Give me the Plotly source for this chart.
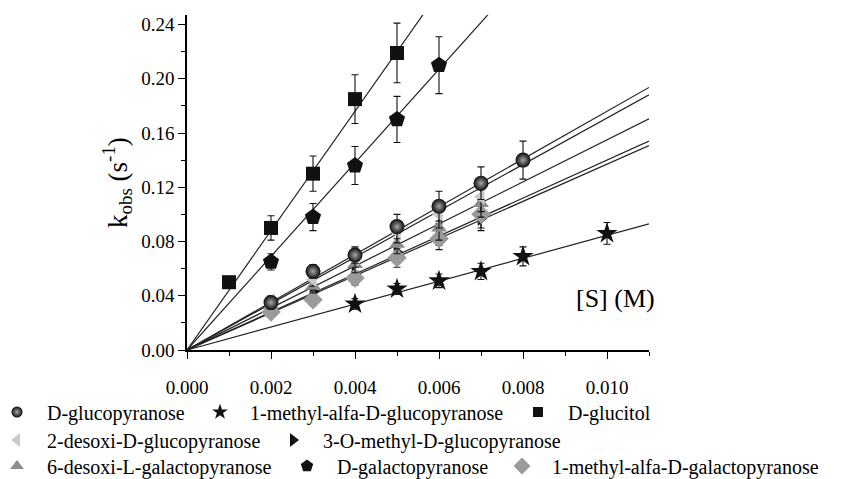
import plotly.graph_objects as go

# ---------------- data ----------------
names = ["D-glucopyranose", "1-methyl-alfa-D-glucopyranose", "D-glucitol",
         "2-desoxi-D-glucopyranose", "3-O-methyl-D-glucopyranose",
         "6-desoxi-L-galactopyranose", "D-galactopyranose",
         "1-methyl-alfa-D-galactopyranose"]

glc_x = [0.002, 0.003, 0.004, 0.005, 0.006, 0.007, 0.008]
glc_y = [0.035, 0.058, 0.070, 0.091, 0.106, 0.123, 0.140]
glc_e = [0.004, 0.005, 0.006, 0.009, 0.011, 0.012, 0.014]

mglc_x = [0.004, 0.005, 0.006, 0.007, 0.008, 0.010]
mglc_y = [0.034, 0.045, 0.051, 0.058, 0.069, 0.086]
mglc_e = [0.004, 0.004, 0.005, 0.006, 0.007, 0.008]

gol_x = [0.001, 0.002, 0.003, 0.004, 0.005]
gol_y = [0.050, 0.090, 0.130, 0.185, 0.219]
gol_e = [0.003, 0.009, 0.013, 0.018, 0.022]

dglc_x = [0.002, 0.003, 0.004, 0.005, 0.006, 0.007]
dglc_y = [0.036, 0.052, 0.068, 0.087, 0.100, 0.113]
dglc_e = [0.004, 0.005, 0.007, 0.008, 0.010, 0.011]

omglc_x = [0.002, 0.003, 0.004, 0.005, 0.006, 0.007]
omglc_y = [0.030, 0.043, 0.056, 0.072, 0.085, 0.097]
omglc_e = [0.003, 0.004, 0.005, 0.007, 0.008, 0.009]

fuc_x = [0.002, 0.003, 0.004, 0.005, 0.006, 0.007]
fuc_y = [0.033, 0.047, 0.063, 0.078, 0.090, 0.108]
fuc_e = [0.003, 0.005, 0.006, 0.007, 0.009, 0.010]

gal_x = [0.002, 0.003, 0.004, 0.005, 0.006]
gal_y = [0.065, 0.098, 0.136, 0.170, 0.210]
gal_e = [0.006, 0.010, 0.014, 0.017, 0.021]

mgal_x = [0.002, 0.003, 0.004, 0.005, 0.006, 0.007]
mgal_y = [0.028, 0.037, 0.053, 0.068, 0.082, 0.100]
mgal_e = [0.003, 0.004, 0.005, 0.007, 0.008, 0.010]

# fitted slopes (s^-1 M^-1) of the straight lines through the origin
slopes = [17.6, 8.45, 44.0, 17.1, 14.0, 15.5, 34.5, 13.7]
fit_x = [0.0, 0.011]

x_ticks = [0.000, 0.002, 0.004, 0.006, 0.008, 0.010]
x_tick_text = ["0.000", "0.002", "0.004", "0.006", "0.008", "0.010"]
y_ticks = [0.00, 0.04, 0.08, 0.12, 0.16, 0.20, 0.24]
y_tick_text = ["0.00", "0.04", "0.08", "0.12", "0.16", "0.20", "0.24"]

# ---------------- styles ----------------
# (x, y, err, symbol, colour, size, legend-symbol size)
series = [
    (glc_x, glc_y, glc_e, "circle", "#0a0a0a", 15, 11),
    (mglc_x, mglc_y, mglc_e, "star", "#111111", 16, 12),
    (gol_x, gol_y, gol_e, "square", "#111111", 14, 10),
    (dglc_x, dglc_y, dglc_e, "triangle-left", "#c9c9c9", 14, 12),
    (omglc_x, omglc_y, omglc_e, "triangle-right", "#111111", 13, 12),
    (fuc_x, fuc_y, fuc_e, "triangle-up", "#8c8c8c", 14, 12),
    (gal_x, gal_y, gal_e, "pentagon", "#111111", 17, 13),
    (mgal_x, mgal_y, mgal_e, "diamond", "#9a9a9a", 15, 13),
]
# legend placement: pixel x of each entry's symbol, row index
leg_sym_px = [17, 220, 538, 17, 293, 17, 307, 522]
leg_row = [0, 0, 0, 1, 1, 2, 2, 2]
row_px = [412, 440, 466]

FONT = "Liberation Serif"
ML, MR, MT, MB, W, H = 187, 193, 15, 129, 842, 479
PW, PH = W - ML - MR, H - MT - MB

fig = go.Figure()

# fit lines
for k in slopes:
    fig.add_trace(go.Scatter(x=fit_x, y=[k * v for v in fit_x], mode="lines",
                             line=dict(color="#222222", width=1.2),
                             showlegend=False, hoverinfo="skip"))


def make_marker(sym, col, sz):
    m = dict(symbol=sym, color=col, size=sz, line=dict(width=0))
    if sym == "circle":
        m["gradient"] = dict(type="radial", color="#a8a8a8")
    return m


# data points (draw in an order that keeps dark markers visible)
order = [2, 6, 1, 4, 7, 5, 3, 0]
for i in order:
    xs, ys, es, sym, col, sz, lsz = series[i]
    fig.add_trace(go.Scatter(
        x=xs, y=ys, mode="markers", name=names[i], showlegend=False,
        marker=make_marker(sym, col, sz),
        error_y=dict(type="data", array=es, visible=True,
                     color="#111111", thickness=1.1, width=3.5),
    ))

# legend entries (one small legend per entry, placed like the reference)
legends = {}
for i, (xs, ys, es, sym, col, sz, lsz) in enumerate(series):
    key = "legend" if i == 0 else f"legend{i + 1}"
    fig.add_trace(go.Scatter(
        x=[None], y=[None], mode="markers", name=names[i], legend=key,
        marker=make_marker(sym, col, lsz), showlegend=True,
    ))
    legends[key] = dict(
        orientation="h", xanchor="left", yanchor="middle",
        x=(leg_sym_px[i] - 30 - ML) / PW,
        y=(MT + PH - row_px[leg_row[i]]) / PH,
        font=dict(family=FONT, size=20, color="black"),
        itemwidth=50, bgcolor="rgba(0,0,0,0)", borderwidth=0,
    )

axis_common = dict(showline=True, linecolor="black", linewidth=1.5,
                   ticks="outside", ticklen=7, tickwidth=1.3, tickcolor="black",
                   showgrid=False, zeroline=False, mirror=False,
                   tickfont=dict(family=FONT, size=19, color="black"))

fig.update_layout(
    width=W, height=H,
    margin=dict(l=ML, r=MR, t=MT, b=MB, autoexpand=False),
    paper_bgcolor="white", plot_bgcolor="white",
    font=dict(family=FONT, color="black"),
    xaxis=dict(range=[0, 0.011], tickvals=x_ticks, ticktext=x_tick_text,
               ticklabelstandoff=12,
               minor=dict(dtick=0.001, ticklen=4, tickwidth=1.2, tickcolor="black", ticks="outside"),
               **axis_common),
    yaxis=dict(range=[0, 0.247], tickvals=y_ticks, ticktext=y_tick_text,
               minor=dict(dtick=0.02, ticklen=4, tickwidth=1.2, tickcolor="black", ticks="outside"),
               title=dict(text="k<sub>obs</sub> (s<sup>-1</sup>)",
                          font=dict(family=FONT, size=27, color="black"), standoff=6),
               **axis_common),
    annotations=[dict(text="[S] (M)", xref="paper", yref="paper", x=1.017, y=0.155,
                      xanchor="right", yanchor="middle", showarrow=False,
                      font=dict(family=FONT, size=26, color="black"))],
    **legends,
)

fig.write_html("out.html")
